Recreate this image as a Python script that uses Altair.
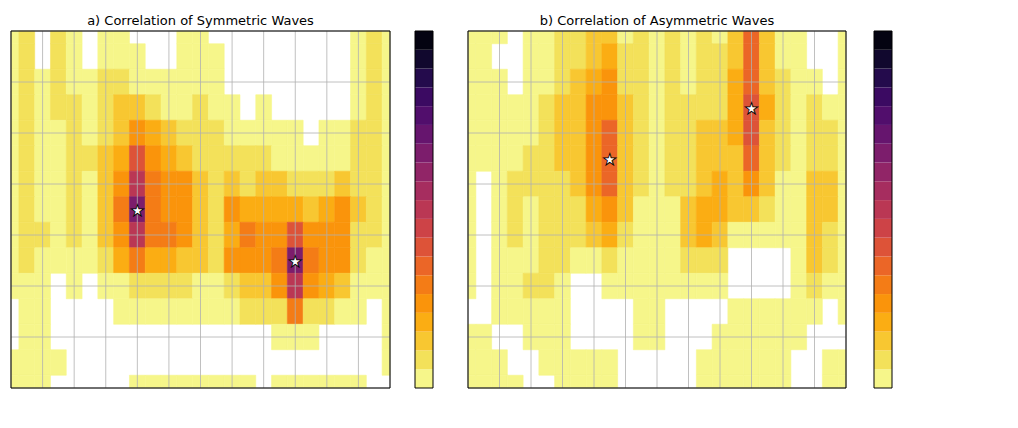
import altair as alt
import pandas as pd

# ---------------- data ----------------
wavenumbers = list(range(-12, 13))
periods = [12.0, 11.5, 11.0, 10.5, 10.0, 9.5, 9.0, 8.5, 8.0, 7.5, 7.0, 6.5, 6.0, 5.5, 5.0]

# correlation of symmetric waves (rows = periods, cols = wavenumbers)
sym_corr = [
    [0.03, 0.07, -0.02, 0.07, 0.03, -0.03, 0.02, 0.02, -0.01, -0.03, -0.03, 0.01, 0.03, -0.02, -0.05, -0.05, -0.05, -0.05, -0.05, -0.05, -0.05, -0.05, 0.0, 0.07, 0.03],
    [0.03, 0.07, -0.01, 0.07, 0.03, -0.02, 0.04, 0.03, 0.01, -0.02, -0.02, 0.02, 0.03, 0.0, -0.04, -0.05, -0.05, -0.05, -0.05, -0.05, -0.05, -0.04, 0.02, 0.08, 0.03],
    [0.03, 0.07, 0.0, 0.06, 0.04, 0.02, 0.07, 0.06, 0.04, 0.01, 0.0, 0.02, 0.04, 0.02, -0.02, -0.03, -0.04, -0.04, -0.05, -0.05, -0.04, -0.03, 0.03, 0.08, 0.03],
    [0.03, 0.07, 0.02, 0.05, 0.06, 0.03, 0.08, 0.11, 0.12, 0.08, 0.04, 0.04, 0.05, 0.04, 0.0, -0.01, 0.0, -0.01, -0.03, -0.03, -0.03, -0.01, 0.04, 0.08, 0.03],
    [0.03, 0.06, 0.03, 0.04, 0.06, 0.04, 0.08, 0.14, 0.2, 0.16, 0.1, 0.06, 0.06, 0.05, 0.04, 0.03, 0.03, 0.02, 0.0, -0.01, 0.0, 0.02, 0.05, 0.09, 0.03],
    [0.03, 0.06, 0.03, 0.03, 0.07, 0.05, 0.1, 0.18, 0.35, 0.22, 0.16, 0.12, 0.08, 0.06, 0.06, 0.06, 0.05, 0.04, 0.02, 0.0, 0.02, 0.04, 0.06, 0.09, 0.03],
    [0.04, 0.07, 0.03, 0.03, 0.07, 0.04, 0.11, 0.23, 0.48, 0.26, 0.22, 0.2, 0.1, 0.07, 0.12, 0.09, 0.1, 0.13, 0.08, 0.06, 0.08, 0.1, 0.07, 0.09, 0.03],
    [0.04, 0.07, 0.04, 0.03, 0.06, 0.02, 0.12, 0.26, 0.6, 0.28, 0.24, 0.24, 0.12, 0.08, 0.2, 0.15, 0.16, 0.19, 0.16, 0.14, 0.18, 0.2, 0.1, 0.08, 0.03],
    [0.04, 0.08, 0.05, 0.02, 0.06, 0.02, 0.1, 0.24, 0.45, 0.27, 0.25, 0.24, 0.13, 0.09, 0.18, 0.26, 0.2, 0.22, 0.35, 0.22, 0.2, 0.2, 0.08, 0.07, 0.03],
    [0.03, 0.06, 0.03, 0.01, 0.04, 0.01, 0.05, 0.15, 0.25, 0.18, 0.16, 0.14, 0.11, 0.08, 0.21, 0.22, 0.22, 0.28, 0.62, 0.28, 0.22, 0.21, 0.06, 0.04, 0.02],
    [0.02, 0.02, 0.03, -0.01, 0.03, -0.01, 0.02, 0.04, 0.06, 0.06, 0.05, 0.05, 0.04, 0.04, 0.08, 0.12, 0.12, 0.22, 0.45, 0.2, 0.15, 0.1, 0.03, 0.02, 0.01],
    [-0.01, 0.03, 0.02, -0.03, -0.02, -0.03, -0.02, 0.01, 0.02, 0.02, 0.01, 0.0, 0.0, 0.01, 0.03, 0.05, 0.05, 0.07, 0.25, 0.08, 0.06, 0.04, 0.01, -0.01, 0.02],
    [-0.02, 0.0, 0.03, -0.03, -0.03, -0.04, -0.04, -0.02, -0.03, -0.03, -0.03, -0.03, -0.04, -0.04, -0.02, -0.01, -0.01, 0.0, 0.02, 0.0, -0.01, -0.01, -0.02, -0.02, 0.01],
    [0.01, 0.01, 0.02, 0.02, -0.03, -0.03, -0.03, -0.02, -0.03, -0.04, -0.04, -0.04, -0.04, -0.03, -0.02, -0.02, -0.03, -0.03, -0.03, -0.03, -0.03, -0.02, -0.03, -0.02, 0.0],
    [0.02, 0.02, 0.01, -0.02, -0.03, -0.03, -0.02, -0.01, 0.02, 0.02, 0.02, 0.02, 0.02, 0.0, 0.01, 0.01, -0.01, 0.01, 0.02, 0.02, 0.02, 0.02, 0.01, -0.01, -0.02],
]

# correlation of asymmetric waves
asym_corr = [
    [0.03, 0.03, 0.0, -0.02, 0.03, 0.03, 0.07, 0.07, 0.12, 0.12, 0.02, 0.07, 0.03, 0.07, 0.03, 0.07, 0.03, 0.12, 0.3, 0.12, 0.03, 0.02, -0.02, -0.02, 0.03],
    [0.03, 0.03, -0.01, -0.02, 0.03, 0.03, 0.08, 0.08, 0.14, 0.15, 0.06, 0.07, 0.03, 0.08, 0.03, 0.08, 0.05, 0.14, 0.33, 0.13, 0.04, 0.03, -0.01, -0.02, 0.03],
    [0.03, 0.03, 0.0, -0.01, 0.03, 0.04, 0.09, 0.1, 0.18, 0.2, 0.09, 0.06, 0.03, 0.08, 0.04, 0.09, 0.07, 0.15, 0.34, 0.14, 0.05, 0.03, 0.02, -0.01, 0.03],
    [0.03, 0.03, 0.02, 0.0, 0.04, 0.05, 0.1, 0.1, 0.2, 0.24, 0.1, 0.06, 0.03, 0.08, 0.05, 0.09, 0.08, 0.16, 0.38, 0.15, 0.05, 0.03, 0.05, 0.03, 0.03],
    [0.03, 0.03, 0.03, 0.03, 0.04, 0.06, 0.11, 0.1, 0.22, 0.3, 0.12, 0.06, 0.03, 0.07, 0.05, 0.1, 0.1, 0.15, 0.35, 0.14, 0.05, 0.03, 0.06, 0.06, 0.03],
    [0.03, 0.01, 0.03, 0.04, 0.05, 0.06, 0.1, 0.11, 0.24, 0.34, 0.13, 0.06, 0.03, 0.06, 0.05, 0.11, 0.12, 0.13, 0.3, 0.12, 0.05, 0.03, 0.08, 0.08, 0.03],
    [0.03, -0.01, 0.03, 0.05, 0.05, 0.06, 0.09, 0.1, 0.2, 0.3, 0.12, 0.05, 0.03, 0.05, 0.05, 0.12, 0.15, 0.12, 0.22, 0.1, 0.04, 0.03, 0.1, 0.1, 0.03],
    [0.03, -0.02, 0.02, 0.06, 0.04, 0.06, 0.08, 0.09, 0.15, 0.22, 0.1, 0.04, 0.03, 0.04, 0.12, 0.17, 0.18, 0.1, 0.12, 0.08, 0.02, 0.03, 0.12, 0.1, 0.03],
    [0.03, -0.02, 0.02, 0.06, 0.04, 0.06, 0.07, 0.05, 0.1, 0.16, 0.08, 0.03, 0.03, 0.03, 0.1, 0.15, 0.12, 0.04, 0.03, 0.02, 0.0, 0.03, 0.14, 0.08, 0.03],
    [0.02, -0.02, 0.02, 0.04, 0.04, 0.07, 0.06, 0.01, 0.04, 0.06, 0.04, 0.02, 0.03, 0.02, 0.06, 0.06, 0.05, -0.01, -0.02, -0.02, -0.01, 0.03, 0.1, 0.05, 0.02],
    [0.01, -0.02, 0.02, 0.03, 0.05, 0.08, 0.03, -0.01, -0.01, 0.01, 0.01, 0.02, 0.03, 0.0, 0.02, 0.02, 0.02, -0.02, -0.03, -0.02, -0.01, 0.02, 0.06, 0.02, 0.01],
    [-0.01, -0.01, 0.02, 0.0, 0.03, 0.04, 0.02, -0.02, -0.02, -0.02, -0.01, 0.01, 0.02, -0.01, -0.01, -0.01, -0.01, 0.01, 0.0, 0.0, 0.01, 0.02, 0.0, -0.01, 0.0],
    [0.01, 0.01, -0.01, -0.01, 0.02, 0.01, 0.01, -0.01, -0.02, -0.02, -0.01, 0.0, 0.01, -0.02, -0.02, -0.01, 0.0, 0.02, 0.01, 0.01, 0.01, 0.01, -0.01, -0.02, -0.01],
    [0.02, 0.0, 0.02, -0.01, -0.01, 0.0, 0.02, 0.02, 0.02, 0.01, -0.01, -0.02, -0.02, -0.02, -0.02, 0.01, 0.02, 0.02, 0.01, 0.02, 0.01, -0.01, -0.01, 0.01, 0.02],
    [0.02, 0.0, 0.02, 0.01, -0.01, -0.02, 0.0, 0.01, 0.01, 0.0, -0.01, -0.02, -0.02, -0.02, -0.01, 0.0, 0.02, 0.02, 0.01, 0.01, 0.0, -0.01, -0.01, 0.01, 0.02],
]

sym_peak_wavenumber = [-4, 6]
sym_peak_period = [8.5, 7.5]
asym_peak_wavenumber = [-3, 6]
asym_peak_period = [9.5, 10.5]

titles = ["a) Correlation of Symmetric Waves", "b) Correlation of Asymmetric Waves"]

levels = [0.0, 0.05, 0.1, 0.15, 0.2, 0.25, 0.3, 0.35, 0.4, 0.45, 0.5,
          0.55, 0.6, 0.65, 0.7, 0.75, 0.8, 0.85, 0.9, 0.95]
band_colors = ["#F6F68A", "#F3E15A", "#F8C731", "#FBAD13", "#FA940B", "#F47C16",
               "#EB6627", "#DD5338", "#CD4347", "#BA3754", "#A62D5F", "#912567",
               "#7C1D6C", "#66156E", "#510E6C", "#3B0A62", "#240B4C", "#11082E", "#040311"]
x_ticks = [-12, -10, -8, -6, -4, -2, 0, 2, 4, 6, 8, 10, 12]
y_ticks = [5, 6, 7, 8, 9, 10, 11, 12]
cbar_ticks = [0.0, 0.1, 0.2, 0.3, 0.4, 0.5, 0.6, 0.7, 0.8, 0.9]

FONT = "DejaVu Sans"
PH = 357
W_HALF, P_HALF = 0.5, 0.25
band_domain = list(range(len(band_colors)))
W_LO, W_HI = wavenumbers[0], wavenumbers[-1]
P_LO, P_HI = periods[-1], periods[0]


def cells(grid):
    rows = []
    for i, p in enumerate(periods):
        for j, w in enumerate(wavenumbers):
            v = grid[i][j]
            if v < levels[0]:
                continue
            rows.append({
                "w0": float(max(w - W_HALF, W_LO)),
                "w1": float(min(w + W_HALF, W_HI)),
                "p0": float(max(p - P_HALF, P_LO)),
                "p1": float(min(p + P_HALF, P_HI)),
                "band": int(sum(1 for t in levels[1:] if v >= t)),
            })
    return pd.DataFrame(rows)


def band_scale():
    return alt.Scale(domain=band_domain, range=band_colors)


def panel(grid, pw, pp, title, width):
    xs = alt.Scale(domain=[W_LO, W_HI], nice=False, zero=False)
    ys = alt.Scale(domain=[P_LO, P_HI], nice=False, zero=False)
    rects = alt.Chart(cells(grid)).mark_rect(strokeWidth=0.6).encode(
        x=alt.X("w0:Q", scale=xs, title="wavenumber (m)",
                axis=alt.Axis(values=x_ticks, grid=False, titlePadding=4)),
        x2="w1",
        y=alt.Y("p0:Q", scale=ys, title="period (years)",
                axis=alt.Axis(values=y_ticks, grid=False, titlePadding=6)),
        y2="p1",
        color=alt.Color("band:O", scale=band_scale(), legend=None),
        stroke=alt.Stroke("band:O", scale=band_scale(), legend=None),
    )
    vgrid = alt.Chart(pd.DataFrame({"w": x_ticks})).mark_rule(color="#b0b0b0", strokeWidth=0.8).encode(
        x=alt.X("w:Q", scale=xs, axis=None))
    hgrid = alt.Chart(pd.DataFrame({"p": y_ticks})).mark_rule(color="#b0b0b0", strokeWidth=0.8).encode(
        y=alt.Y("p:Q", scale=ys, axis=None))
    frame = alt.Chart(pd.DataFrame({"w0": [W_LO], "w1": [W_HI], "p0": [P_LO], "p1": [P_HI]})
                      ).mark_rect(fillOpacity=0, stroke="black", strokeWidth=1).encode(
        x=alt.X("w0:Q", scale=xs, axis=None), x2="w1", y=alt.Y("p0:Q", scale=ys, axis=None), y2="p1")
    stars = alt.Chart(pd.DataFrame({"w": pw, "p": pp})).mark_text(
        text="\u2605", font=FONT, fontSize=16, fill="white", stroke="black", strokeWidth=0.9,
        align="center", baseline="middle", dy=1
    ).encode(x=alt.X("w:Q", scale=xs, axis=None), y=alt.Y("p:Q", scale=ys, axis=None))
    return alt.layer(rects, vgrid, hgrid, frame, stars).properties(
        width=width, height=PH, title=alt.Title(title))


def colorbar():
    cs = alt.Scale(domain=[0, 1], nice=False, zero=False)
    ls = alt.Scale(domain=[levels[0], levels[-1]], nice=False, zero=False)
    df = pd.DataFrame({"lo": levels[:-1], "hi": levels[1:], "band": band_domain,
                       "c0": [0.0] * len(band_colors), "c1": [1.0] * len(band_colors)})
    bars = alt.Chart(df).mark_rect().encode(
        x=alt.X("c0:Q", scale=cs, axis=None), x2="c1",
        y=alt.Y("lo:Q", scale=ls, title=None,
                axis=alt.Axis(orient="right", values=cbar_ticks, format=".1f", grid=False, labelPadding=4)),
        y2="hi",
        color=alt.Color("band:O", scale=band_scale(), legend=None),
    )
    frame = alt.Chart(pd.DataFrame({"c0": [0.0], "c1": [1.0], "lo": [levels[0]], "hi": [levels[-1]]})
                      ).mark_rect(fillOpacity=0, stroke="black", strokeWidth=1).encode(
        x=alt.X("c0:Q", scale=cs, axis=None), x2="c1",
        y=alt.Y("lo:Q", scale=ls, axis=None), y2="hi")
    return alt.layer(bars, frame).properties(width=18, height=PH)


left = alt.hconcat(
    panel(sym_corr, sym_peak_wavenumber, sym_peak_period, titles[0], 379),
    colorbar(), spacing=23)
right = alt.hconcat(
    panel(asym_corr, asym_peak_wavenumber, asym_peak_period, titles[1], 378),
    colorbar(), spacing=26)

chart = alt.hconcat(left, right, spacing=33).properties(
    padding={"left": 10, "top": 14, "right": 2, "bottom": 2}
).configure_view(
    strokeWidth=0
).configure_axis(
    labelFont=FONT, titleFont=FONT, labelFontSize=11, titleFontSize=11, titleFontWeight="normal",
    labelColor="black", titleColor="black", domainColor="black", tickColor="black", tickSize=4,
    labelPadding=4
).configure_title(
    font=FONT, fontSize=13, fontWeight="normal", color="black", offset=3
)

chart.save("out.html", embed_options={"renderer": "svg", "actions": False})
